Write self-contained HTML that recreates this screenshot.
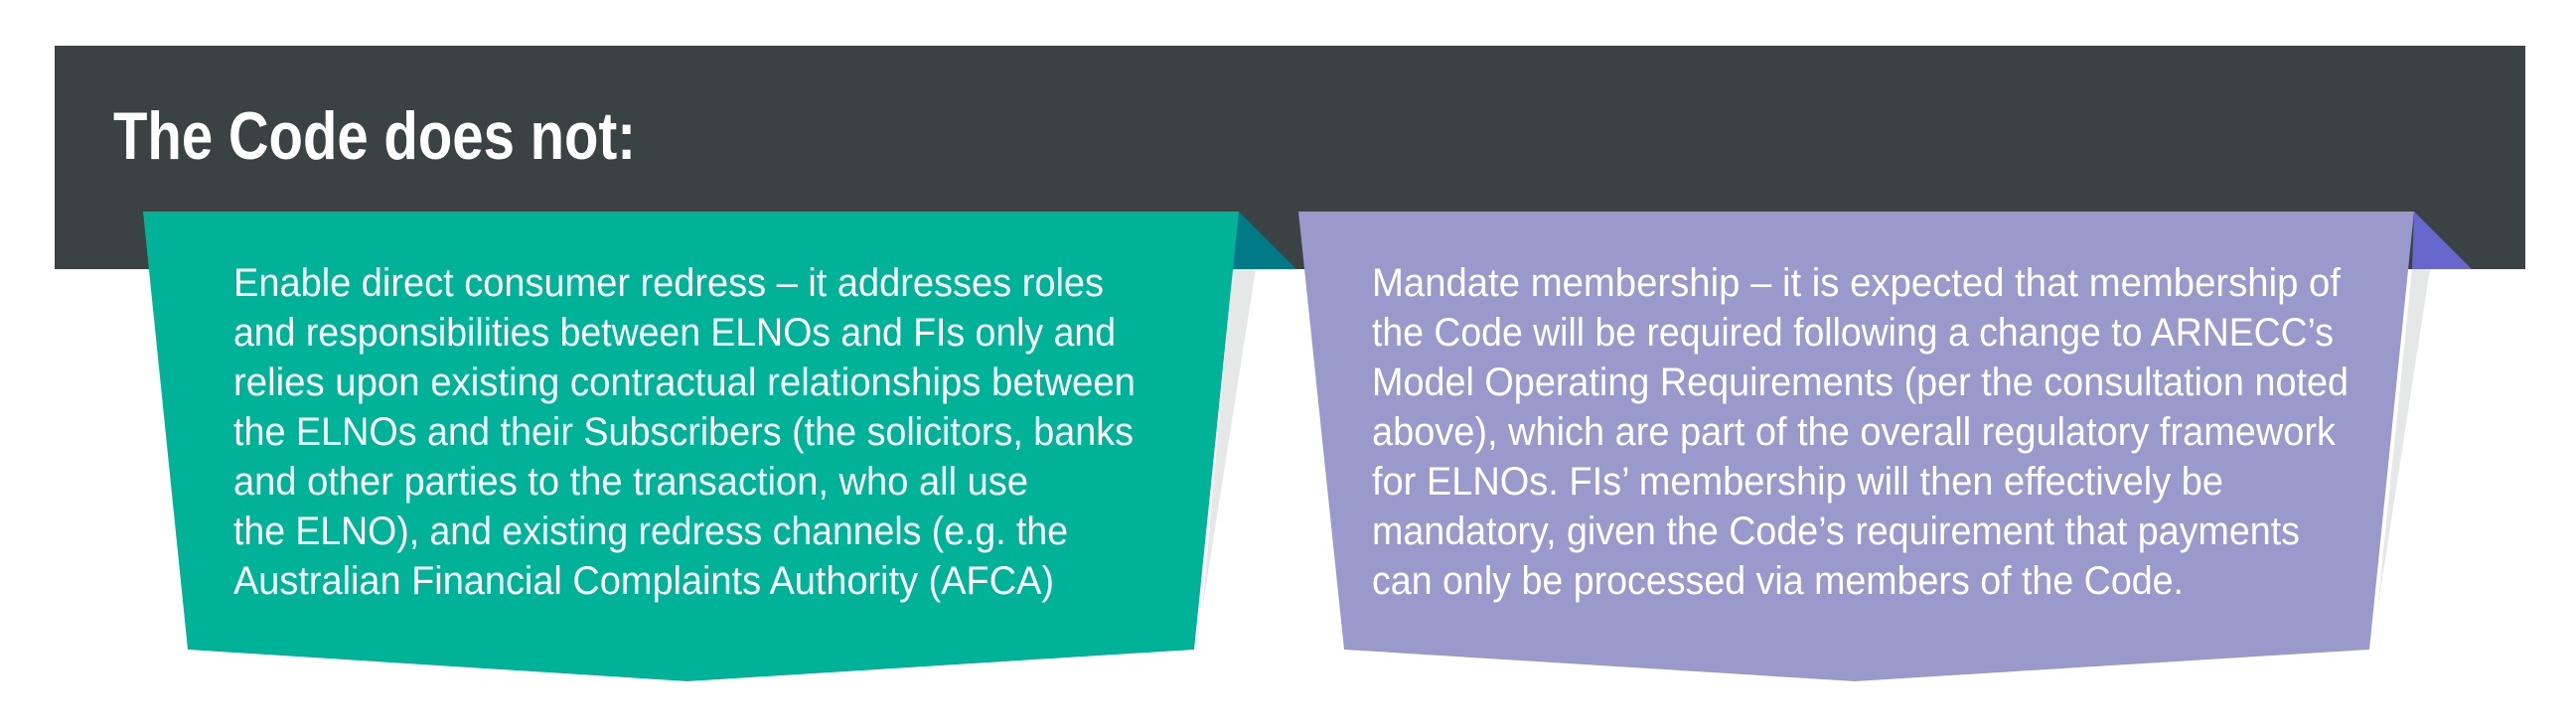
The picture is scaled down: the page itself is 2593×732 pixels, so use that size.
<!DOCTYPE html>
<html><head><meta charset="utf-8"><style>
html,body{margin:0;padding:0;background:#fff;}
svg{display:block;}
text{font-family:"Liberation Sans Narrow","Liberation Sans",sans-serif;}
</style></head><body>
<svg width="2593" height="732" viewBox="0 0 2593 732" xmlns="http://www.w3.org/2000/svg">
<rect x="0" y="0" width="2593" height="732" fill="#ffffff"/>
<rect x="55" y="46" width="2487" height="225" fill="#3b4244"/>
<!-- shadows -->
<polygon points="1241,271 1264,271 1210,615" fill="#e6e7e7"/>
<polygon points="2428,271 2446,271 2393,615" fill="#e6e7e7"/>
<!-- folds -->
<polygon points="1247,213 1305,271 1241,271" fill="#007a87"/>
<polygon points="2430,213 2488,271 2428,271" fill="#6666cc"/>
<!-- boxes -->
<polygon points="144,213 1247,213 1202,654 692,686 189,654" fill="#00b398"/>
<polygon points="1307,213 2430,213 2385,654 1867,686 1353,654" fill="#9999cc"/>
<text x="114" y="160" font-size="68" font-weight="bold" fill="#fff" textLength="526" lengthAdjust="spacingAndGlyphs">The Code does not:</text>
<g font-size="40" fill="#fff">
<text x="235" y="298" textLength="876" lengthAdjust="spacingAndGlyphs">Enable direct consumer redress – it addresses roles</text>
<text x="235" y="348" textLength="888" lengthAdjust="spacingAndGlyphs">and responsibilities between ELNOs and FIs only and</text>
<text x="235" y="398" textLength="908" lengthAdjust="spacingAndGlyphs">relies upon existing contractual relationships between</text>
<text x="235" y="448" textLength="906" lengthAdjust="spacingAndGlyphs">the ELNOs and their Subscribers (the solicitors, banks</text>
<text x="235" y="498" textLength="800" lengthAdjust="spacingAndGlyphs">and other parties to the transaction, who all use</text>
<text x="235" y="548" textLength="840" lengthAdjust="spacingAndGlyphs">the ELNO), and existing redress channels (e.g. the</text>
<text x="235" y="598" textLength="826" lengthAdjust="spacingAndGlyphs">Australian Financial Complaints Authority (AFCA)</text>
<text x="1381" y="298" textLength="975" lengthAdjust="spacingAndGlyphs">Mandate membership – it is expected that membership of</text>
<text x="1381" y="348" textLength="968" lengthAdjust="spacingAndGlyphs">the Code will be required following a change to ARNECC’s</text>
<text x="1381" y="398" textLength="983" lengthAdjust="spacingAndGlyphs">Model Operating Requirements (per the consultation noted</text>
<text x="1381" y="448" textLength="970" lengthAdjust="spacingAndGlyphs">above), which are part of the overall regulatory framework</text>
<text x="1381" y="498" textLength="857" lengthAdjust="spacingAndGlyphs">for ELNOs. FIs’ membership will then effectively be</text>
<text x="1381" y="548" textLength="934" lengthAdjust="spacingAndGlyphs">mandatory, given the Code’s requirement that payments</text>
<text x="1381" y="598" textLength="817" lengthAdjust="spacingAndGlyphs">can only be processed via members of the Code.</text>
</g>
</svg>
</body></html>
